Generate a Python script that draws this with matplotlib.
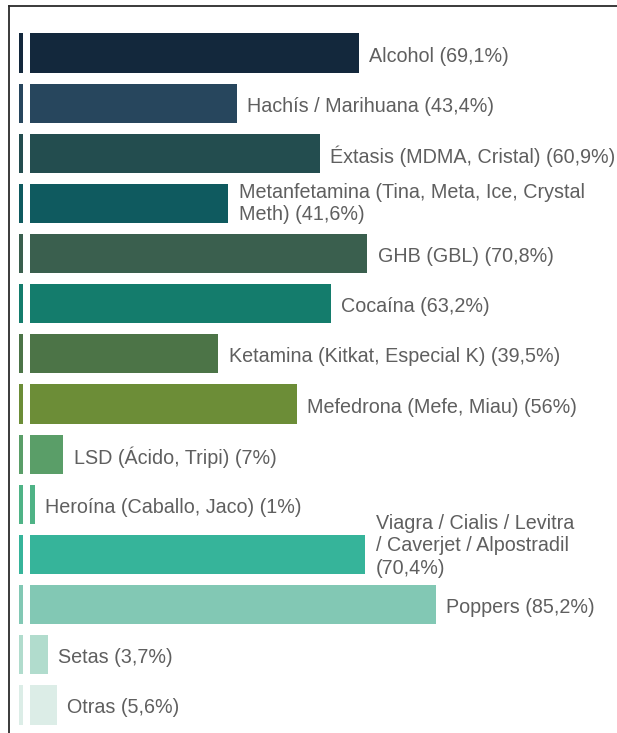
import matplotlib
matplotlib.use("Agg")
import matplotlib.pyplot as plt
from matplotlib.lines import Line2D

labels = [
    "Alcohol (69,1%)",
    "Hachís / Marihuana (43,4%)",
    "Éxtasis (MDMA, Cristal) (60,9%)",
    "Metanfetamina (Tina, Meta, Ice, Crystal\nMeth) (41,6%)",
    "GHB (GBL) (70,8%)",
    "Cocaína (63,2%)",
    "Ketamina (Kitkat, Especial K) (39,5%)",
    "Mefedrona (Mefe, Miau) (56%)",
    "LSD (Ácido, Tripi) (7%)",
    "Heroína (Caballo, Jaco) (1%)",
    "Viagra / Cialis / Levitra\n/ Caverjet / Alpostradil\n(70,4%)",
    "Poppers (85,2%)",
    "Setas (3,7%)",
    "Otras (5,6%)",
]
values = [69.1, 43.4, 60.9, 41.6, 70.8, 63.2, 39.5, 56.0, 7.0, 1.0, 70.4, 85.2, 3.7, 5.6]
colors = [
    "#13283c", "#27465d", "#234d4f", "#0f5a5f", "#3a5f4e", "#147c6c", "#4c7447",
    "#6c8d37", "#5a9e68", "#4fb386", "#36b49a", "#82c8b4", "#b1dccd", "#dcede7",
]

W, H = 617, 733
fig = plt.figure(figsize=(W / 100, H / 100), dpi=100)
ax = fig.add_axes([0, 0, 1, 1])
ax.set_axis_off()

pxper = 4.76       # pixels per percent
x0 = 30            # bar origin in px
row0, drow = 53, 50.15
ax.set_xlim(-x0 / pxper, (W - x0) / pxper)
ax.set_ylim((H - row0) / drow, -row0 / drow)

n = len(values)
ys = list(range(n))
bh = 0.78
ax.barh(ys, values, height=bh, color=colors, edgecolor="none")
# small marker bars at left
ax.barh(ys, [0.84] * n, left=-2.31, height=bh, color=colors, edgecolor="none")

for y, v, lab in zip(ys, values, labels):
    nl = lab.count("\n")
    dy = 0.06 if nl == 0 else (0.0 if nl == 1 else -0.17)
    ax.text(v + 10.5 / pxper, y + dy, lab, va="center", ha="left",
            fontsize=14.2, color="#5f5f5f", family="Liberation Sans",
            linespacing=1.25)

# frame lines (left and top)
fig.add_artist(Line2D([9 / W, 9 / W], [0, 1 - 6 / H], transform=fig.transFigure,
                      color="#2b2b2b", lw=1.3))
fig.add_artist(Line2D([9 / W, 1], [1 - 6 / H, 1 - 6 / H], transform=fig.transFigure,
                      color="#2b2b2b", lw=1.3))

fig.savefig("out.png", dpi=100)
